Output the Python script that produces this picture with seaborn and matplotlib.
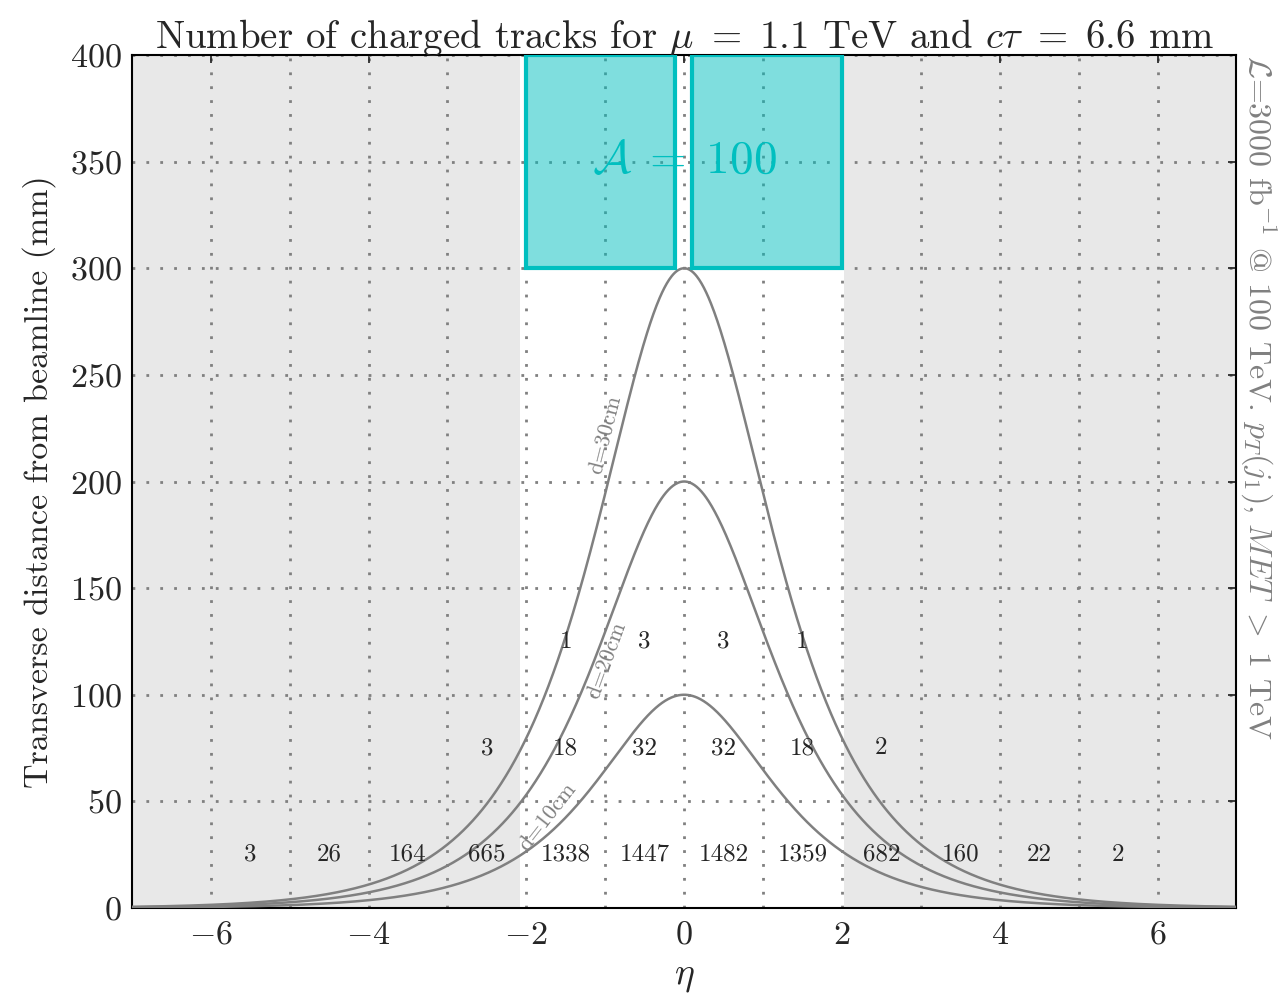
import numpy as np
import pandas as pd
import matplotlib
matplotlib.use("Agg")
import matplotlib.pyplot as plt
import seaborn as sns

# ---- data ----
distances_mm = [100, 200, 300]
curve_labels = ["d=10cm", "d=20cm", "d=30cm"]
eta_bins_low = [-5.5, -4.5, -3.5, -2.5, -1.5, -0.5, 0.5, 1.5, 2.5, 3.5, 4.5, 5.5]
counts_low = [3, 26, 164, 665, 1338, 1447, 1482, 1359, 682, 160, 22, 2]
eta_bins_mid = [-2.5, -1.5, -0.5, 0.5, 1.5, 2.5]
counts_mid = [3, 18, 32, 32, 18, 2]
eta_bins_high = [-1.5, -0.5, 0.5, 1.5]
counts_high = [1, 3, 3, 1]
row_y = [25, 75, 125]
acceptance = 100

sns.set_theme(style="white")
plt.rcParams.update({
    "font.family": "serif",
    "font.serif": ["cmr10", "DejaVu Serif"],
    "mathtext.fontset": "cm",
    "axes.formatter.use_mathtext": True,
    "axes.unicode_minus": True,
    "xtick.direction": "in",
    "ytick.direction": "in",
    "xtick.top": True,
    "ytick.right": True,
    "xtick.major.size": 6,
    "ytick.major.size": 6,
})

fig = plt.figure(figsize=(12.8, 9.93), dpi=100)
ax = fig.add_axes([0.103, 0.0856, 0.863, 0.859])

# shaded regions
ax.axvspan(-7, -2.08, color="#e8e8e8", zorder=0, lw=0)
ax.axvspan(2.02, 7, color="#e8e8e8", zorder=0, lw=0)

# curves
eta = np.linspace(-7, 7, 1401)
rows = []
for d, lab in zip(distances_mm, curve_labels):
    rows.append(pd.DataFrame({"eta": eta, "r": d / np.cosh(eta), "d": lab}))
df = pd.concat(rows)
sns.lineplot(data=df, x="eta", y="r", units="d", estimator=None, color="gray",
             lw=1.8, ax=ax, zorder=3)

# acceptance boxes
for x0, x1 in [(-2.0, -0.11), (0.1, 2.0)]:
    ax.add_patch(plt.Rectangle((x0, 300), x1 - x0, 100, facecolor="#00bfbf", alpha=0.5,
                               edgecolor="none", zorder=2))
    ax.add_patch(plt.Rectangle((x0, 300), x1 - x0, 100, facecolor="none",
                               edgecolor="#00bfbf", lw=3, zorder=4))
ax.text(0, 350, r"$\mathcal{A}\;=\;%d$" % acceptance, color="#00bfbf", fontsize=34,
        ha="center", va="center", zorder=5)

# counts
for xs, cs, y in [(eta_bins_low, counts_low, row_y[0]),
                  (eta_bins_mid, counts_mid, row_y[1]),
                  (eta_bins_high, counts_high, row_y[2])]:
    for x, c in zip(xs, cs):
        ax.text(x, y, str(c), ha="center", va="center", fontsize=18, zorder=6)

# curve labels
ax.text(-1.73, 43, "d=10cm", color="gray", fontsize=16, rotation=52,
        ha="center", va="center", zorder=6)
ax.text(-0.98, 116, "d=20cm", color="gray", fontsize=16, rotation=70,
        ha="center", va="center", zorder=6)
ax.text(-1.0, 222, "d=30cm", color="gray", fontsize=16, rotation=76,
        ha="center", va="center", zorder=6)

ax.set_xlim(-7, 7)
ax.set_ylim(0, 400)
ax.set_xticks(np.arange(-6, 7, 2))
ax.set_xticks(np.arange(-6, 7, 1), minor=True)
ax.set_yticks(np.arange(0, 401, 50))
ax.tick_params(which="minor", length=0)
ax.tick_params(labelsize=24.5)
ax.tick_params(axis="x", pad=9)
ax.tick_params(axis="y", pad=7)
ax.grid(True, which="both", axis="x", color="gray", ls=(0, (1, 4)), lw=2, zorder=1)
ax.grid(True, which="major", axis="y", color="gray", ls=(0, (1, 4)), lw=2, zorder=1)
ax.set_axisbelow(True)
for s in ax.spines.values():
    s.set_color("black")
    s.set_linewidth(1.5)

ax.set_xlabel(r"$\eta$", fontsize=27, labelpad=8)
ax.set_ylabel("Transverse distance from beamline (mm)", fontsize=24.5, labelpad=10)
ax.set_title(r"Number of charged tracks for $\mu\ =\ 1.1$ TeV and $c\tau\ =\ 6.6$ mm",
             fontsize=28, pad=5)
ax.text(1.019, 1.0, r"$\mathcal{L}$=3000 fb$^{-1}$ @ 100 TeV. $p_T(j_1)$, $MET\ >\ 1$ TeV",
        transform=ax.transAxes, rotation=-90, color="gray", fontsize=23,
        ha="center", va="top")

fig.savefig("out.png", dpi=100)
